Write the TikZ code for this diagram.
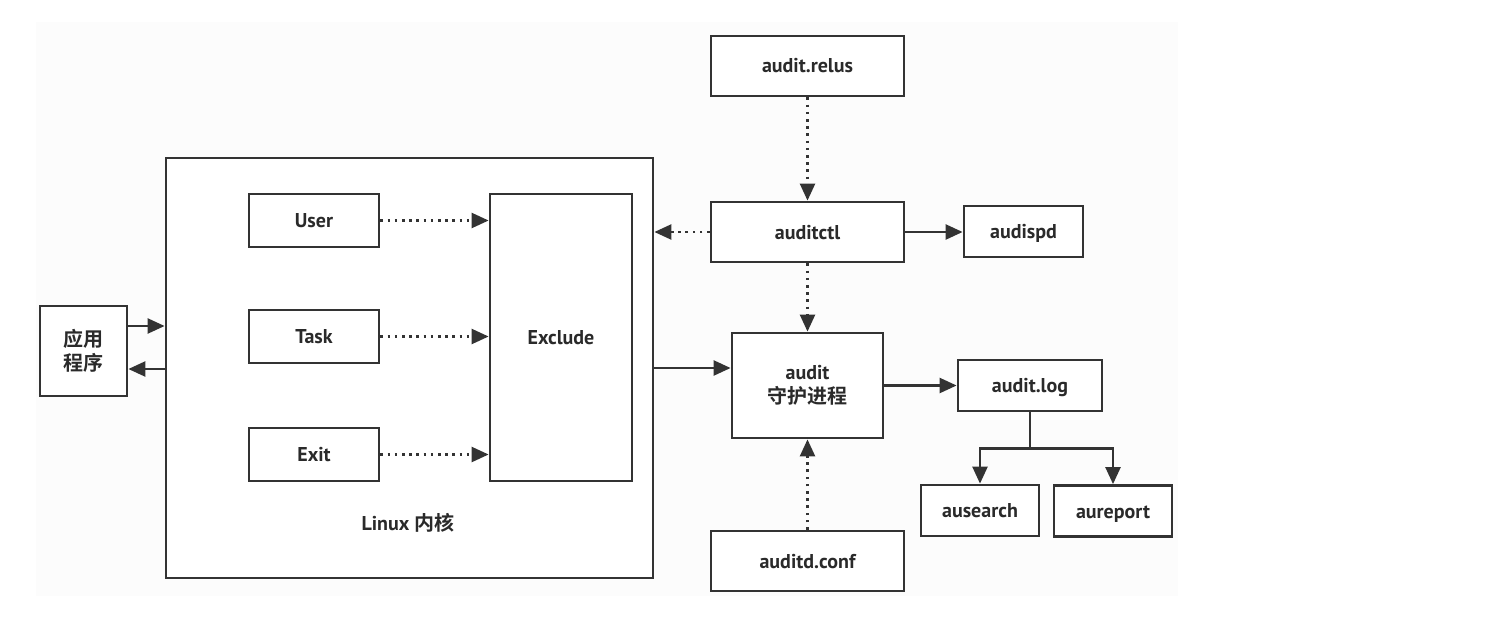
\documentclass[tikz,border=0pt]{standalone}
\usepackage{fontspec}
\setmainfont{PT Sans}
\newfontfamily\cjk{Noto Sans CJK SC}[BoldFont={Noto Sans CJK SC Bold}]
\usetikzlibrary{arrows.meta}
\definecolor{ink}{HTML}{333333}
\definecolor{txt}{HTML}{2A2A2A}
\definecolor{bgc}{HTML}{FCFCFC}
\tikzset{
  box/.style={draw=ink, line width=2.8pt, fill=white, inner sep=0pt, text=txt,
    font=\fontsize{20}{24}\selectfont\bfseries, align=center},
  onebox/.style={box, text height=18pt, text depth=4pt},
  arr/.style={draw=ink, line width=2.4pt, -{Triangle[length=17pt,width=15pt]}},
  dotarr/.style={arr, dash pattern=on 2.6pt off 4.6pt},
  lbl/.style={text=txt, font=\fontsize{20}{24}\selectfont\bfseries, inner sep=0pt}
}
\begin{document}
\begin{tikzpicture}[x=1pt,y=-1pt]
\useasboundingbox (0,0) rectangle (1498,634);
\fill[bgc] (36,22) rectangle (1178,596);
% kernel
\node[box, minimum width=487pt, minimum height=420pt] (kernel) at (409.5,368) {};
\node[lbl] (klabel) at (408,523) {Linux {\cjk\bfseries 内核}};
\node[onebox, minimum width=130pt, minimum height=53pt] (user) at (314,220.5) {User};
\node[onebox, minimum width=130pt, minimum height=53pt] (task) at (314,336.5) {Task};
\node[onebox, minimum width=130pt, minimum height=53pt] (exit) at (314,454.5) {Exit};
\node[onebox, minimum width=142pt, minimum height=287pt] (excl) at (561,337.5) {Exclude};
% app
\node[box, minimum width=87pt, minimum height=90pt] (app) at (83.5,351) {{\cjk\bfseries 应用}\\{\cjk\bfseries 程序}};
% right side
\node[onebox, minimum width=193pt, minimum height=60pt] (relus) at (807.5,66) {audit.relus};
\node[onebox, minimum width=193pt, minimum height=60pt] (ctl) at (807.5,232) {auditctl};
\node[onebox, minimum width=119pt, minimum height=51pt] (dispd) at (1023.5,231.5) {audispd};
\node[box, minimum width=151pt, minimum height=105pt] (daemon) at (807.5,385.5) {audit\\{\cjk\bfseries 守护进程}};
\node[onebox, minimum width=193pt, minimum height=60pt] (conf) at (807.5,561) {auditd.conf};
\node[onebox, minimum width=144pt, minimum height=51pt] (log) at (1030,385.5) {audit.log};
\node[onebox, minimum width=118pt, minimum height=51pt] (search) at (980,510.5) {ausearch};
\node[onebox, minimum width=118pt, minimum height=51pt] (report) at (1113,511) {aureport};
% connectors inside kernel
\draw[dotarr] (user.east) -- (user.east -| excl.west);
\draw[dotarr] (task.east) -- (task.east -| excl.west);
\draw[dotarr] (exit.east) -- (exit.east -| excl.west);
% app <-> kernel
\coordinate (a1) at ([yshift=25pt]app.east);
\coordinate (a2) at ([yshift=-18pt]app.east);
\draw[arr] (a1) -- (a1 -| kernel.west);
\draw[arr] (a2 -| kernel.west) -- (a2);
% kernel -> daemon
\draw[arr] (kernel.east) -- (kernel.east -| daemon.west);
% auditctl
\draw[dotarr] (relus.south) -- (ctl.north);
\draw[dotarr] (ctl.west) -- (ctl.west -| kernel.east);
\draw[arr] (ctl.east) -- (ctl.east -| dispd.west);
\draw[dotarr] (ctl.south) -- (daemon.north);
\draw[dotarr] (conf.north) -- (daemon.south);
\draw[arr] (daemon.east) -- (daemon.east -| log.west);
% log tree
\coordinate (br) at ([yshift=-36pt]log.south);
\draw[arr] (log.south) -- (br) -| (search.north);
\draw[arr] (br) -| (report.north);
\end{tikzpicture}
\end{document}
